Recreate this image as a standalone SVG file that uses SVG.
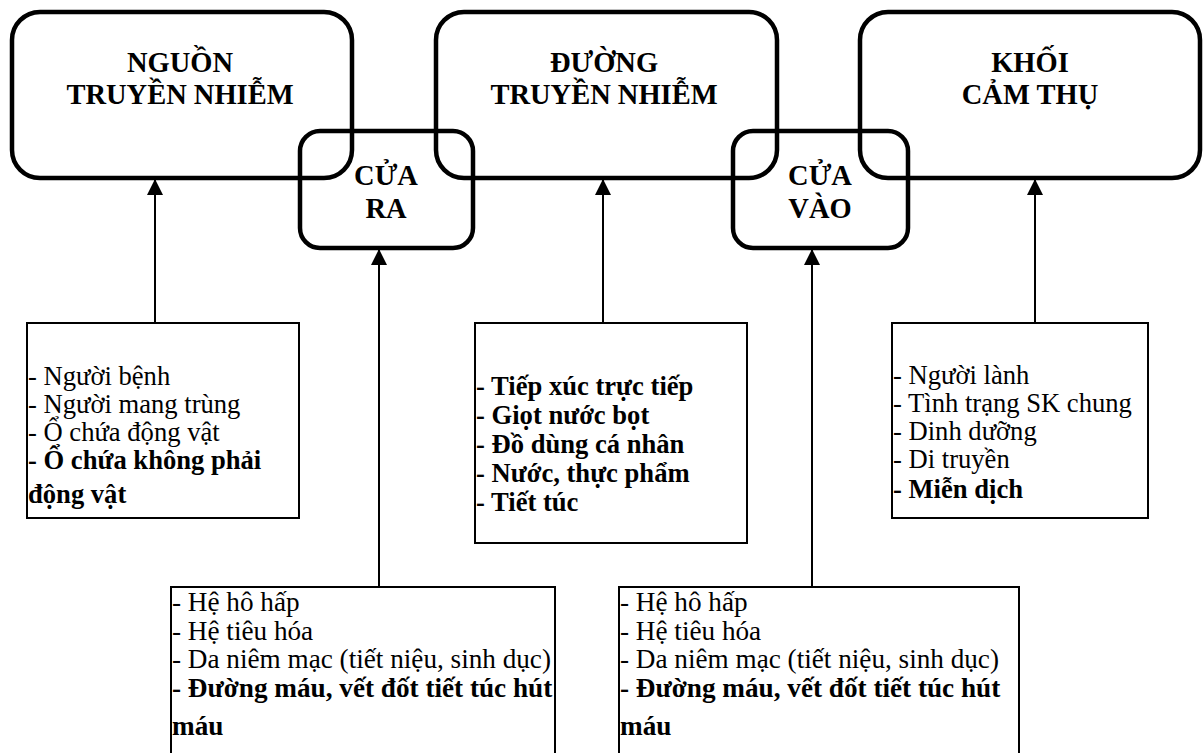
<svg xmlns="http://www.w3.org/2000/svg" width="1204" height="753" viewBox="0 0 1204 753">
<defs>
<style>
.big{fill:none;stroke:#000;stroke-width:4.5}
.box{fill:#fff;stroke:#000;stroke-width:2}
.h{font-family:"Liberation Serif","Times New Roman",serif;font-weight:bold;font-size:28.5px;text-anchor:middle;fill:#000}
.t{font-family:"Liberation Serif","Times New Roman",serif;font-size:26.6px;fill:#000}
.t2{font-size:27.2px}
.b{font-weight:bold}
.ln{stroke:#000;stroke-width:2;fill:none}
</style>
<marker id="ah" viewBox="0 0 16 16" refX="15" refY="8" markerWidth="16" markerHeight="16" markerUnits="userSpaceOnUse" orient="auto">
<path d="M0,0 L16,8 L0,16 Z" fill="#000"/>
</marker>
</defs>
<rect width="1204" height="753" fill="#fff"/>
<g id="connectors">
<line class="ln" x1="155" y1="323" x2="155" y2="180" marker-end="url(#ah)"/>
<line class="ln" x1="379" y1="587" x2="379" y2="250" marker-end="url(#ah)"/>
<line class="ln" x1="603" y1="323" x2="603" y2="180" marker-end="url(#ah)"/>
<line class="ln" x1="812" y1="587" x2="812" y2="250" marker-end="url(#ah)"/>
<line class="ln" x1="1035" y1="323" x2="1035" y2="180" marker-end="url(#ah)"/>
</g>
<g id="nguon">
<rect class="big" x="12" y="12" width="340" height="166" rx="28"/>
<text class="h" x="180" y="72">NGUỒN</text>
<text class="h" x="180" y="104">TRUYỀN NHIỄM</text>
</g>
<g id="duong">
<rect class="big" x="436" y="12" width="341" height="166" rx="28"/>
<text class="h" x="604" y="72">ĐƯỜNG</text>
<text class="h" x="604" y="104">TRUYỀN NHIỄM</text>
</g>
<g id="khoi">
<rect class="big" x="860" y="12" width="340" height="166" rx="28"/>
<text class="h" x="1030" y="72">KHỐI</text>
<text class="h" x="1030" y="104">CẢM THỤ</text>
</g>
<g id="cuara">
<rect class="big" x="300" y="131" width="173" height="117" rx="20"/>
<text class="h" x="386" y="185">CỬA</text>
<text class="h" x="386" y="218">RA</text>
</g>
<g id="cuavao">
<rect class="big" x="733" y="131" width="175" height="117" rx="20"/>
<text class="h" x="820" y="185">CỬA</text>
<text class="h" x="820" y="218">VÀO</text>
</g>
<g id="list-nguon">
<rect class="box" x="27" y="323" width="272" height="195"/>
<text class="t" x="28" y="385">- Người bệnh</text>
<text class="t" x="28" y="413">- Người mang trùng</text>
<text class="t" x="28" y="441">- Ổ chứa động vật</text>
<text class="t b" x="28" y="469">- Ổ chứa không phải</text>
<text class="t b" x="28" y="503">động vật</text>
</g>
<g id="list-duong">
<rect class="box" x="475" y="323" width="272" height="220"/>
<text class="t b" x="476" y="395">- Tiếp xúc trực tiếp</text>
<text class="t b" x="476" y="424">- Giọt nước bọt</text>
<text class="t b" x="476" y="453">- Đồ dùng cá nhân</text>
<text class="t b" x="476" y="482">- Nước, thực phẩm</text>
<text class="t b" x="476" y="511">- Tiết túc</text>
</g>
<g id="list-khoi">
<rect class="box" x="892" y="323" width="256" height="195"/>
<text class="t" x="893" y="384">- Người lành</text>
<text class="t" x="893" y="412">- Tình trạng SK chung</text>
<text class="t" x="893" y="440">- Dinh dưỡng</text>
<text class="t" x="893" y="468">- Di truyền</text>
<text class="t b" x="893" y="498">- Miễn dịch</text>
</g>
<g id="list-cuara">
<rect class="box" x="171" y="587" width="384" height="180"/>
<text class="t t2" x="172" y="611">- Hệ hô hấp</text>
<text class="t t2" x="172" y="640">- Hệ tiêu hóa</text>
<text class="t t2" x="172" y="668">- Da niêm mạc (tiết niệu, sinh dục)</text>
<text class="t t2 b" x="172" y="697">- Đường máu, vết đốt tiết túc hút</text>
<text class="t t2 b" x="172" y="735">máu</text>
</g>
<g id="list-cuavao">
<rect class="box" x="619" y="587" width="400" height="180"/>
<text class="t t2" x="620" y="611">- Hệ hô hấp</text>
<text class="t t2" x="620" y="640">- Hệ tiêu hóa</text>
<text class="t t2" x="620" y="668">- Da niêm mạc (tiết niệu, sinh dục)</text>
<text class="t t2 b" x="620" y="697">- Đường máu, vết đốt tiết túc hút</text>
<text class="t t2 b" x="620" y="735">máu</text>
</g>
</svg>
